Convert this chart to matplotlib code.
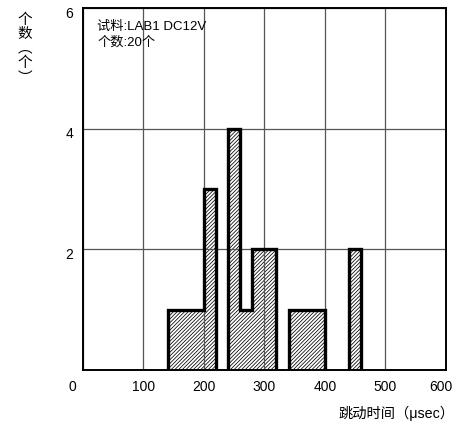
import numpy as np
import matplotlib
matplotlib.use("Agg")
import matplotlib.pyplot as plt
import matplotlib.transforms as mtransforms
from matplotlib.textpath import TextPath
from matplotlib.font_manager import FontProperties

# ---- data ----
bar_left = [140, 200, 240, 260, 280, 300, 340, 440]
bar_width = [60, 20, 20, 20, 20, 20, 60, 20]
counts = [1, 3, 4, 1, 2, 2, 1, 2]
x_ticks = [0, 100, 200, 300, 400, 500, 600]
y_ticks = [2, 4, 6]
info_lines = ["试料:LAB1 DC12V", "个数:20个"]
x_label = "跳动时间（μsec）"
y_label_chars = ["个", "数", "︵", "个", "︶"]

FAM = ["Liberation Sans", "Noto Sans CJK SC", "DejaVu Sans"]
plt.rcParams['font.family'] = FAM
plt.rcParams['hatch.linewidth'] = 0.55

DPI = 100
fig = plt.figure(figsize=(4.65, 4.24), dpi=DPI)
ax = fig.add_axes([0.178, 0.127, 0.781, 0.854])
ax.set_xlim(0, 600)
ax.set_ylim(0, 6)

ax.set_xticks(x_ticks)
ax.set_yticks(y_ticks)
# horizontal grid below bars, vertical grid above hatch
ax.yaxis.grid(True, color="#555555", linewidth=0.9)
ax.xaxis.grid(True, color="#555555", linewidth=0.9)
ax.set_axisbelow(False)
for gl in ax.yaxis.get_gridlines():
    gl.set_zorder(0.5)
for gl in ax.xaxis.get_gridlines():
    gl.set_zorder(2.5)

# hatched bars
ax.bar(bar_left, counts, width=bar_width, align='edge', color='white',
       edgecolor='black', linewidth=0, hatch='/////////', zorder=2)

# thick outline of contiguous groups
edges = [bar_left[0]]
vals = []
for l, w, c in zip(bar_left, bar_width, counts):
    if l > edges[-1]:
        vals.append(np.nan)
        edges.append(l)
    vals.append(c)
    edges.append(l + w)
ax.stairs(vals, edges, baseline=0, fill=False, color='black',
          linewidth=2.4, zorder=3)

for s in ax.spines.values():
    s.set_linewidth(1.4)
    s.set_zorder(4)

ax.tick_params(length=0, labelsize=10, pad=7)
ax.set_xticklabels([str(v) for v in x_ticks])
ax.set_yticklabels([str(v) for v in y_ticks])
lbl0 = ax.get_xticklabels()[0]
lbl0.set_transform(lbl0.get_transform() +
                   mtransforms.ScaledTranslation(-10 / 100, 0, fig.dpi_scale_trans))
lbl6 = ax.get_xticklabels()[-1]
lbl6.set_transform(lbl6.get_transform() +
                   mtransforms.ScaledTranslation(-5 / 100, 0, fig.dpi_scale_trans))
for lbl in ax.get_yticklabels():
    lbl.set_transform(lbl.get_transform() +
                      mtransforms.ScaledTranslation(0, -4 / 100, fig.dpi_scale_trans))

# info text
ax.text(0.04, 0.964, "\n".join(info_lines), transform=ax.transAxes,
        ha='left', va='top', fontsize=9.5, linespacing=1.35, zorder=5)

# x label
fig.text(454 / 465, 1 - 413 / 424, x_label, ha='right', va='center', fontsize=10.3)

# y label (vertical stacked characters), placed by ink centre
ylab_size = 10.5
cjk = FontProperties(family="Noto Sans CJK SC", size=ylab_size)
centers = [18.5, 32.5, 51, 61.5, 72]
for ch, yc in zip(y_label_chars, centers):
    ext = TextPath((0, 0), ch, prop=cjk).get_extents()
    ink_mid_px = (ext.y0 + ext.y1) / 2 * DPI / 72.0
    inkx_mid_px = (ext.x0 + ext.x1) / 2 * DPI / 72.0
    base_y = (424 - yc) - ink_mid_px
    left_x = 25 - inkx_mid_px
    fig.text(left_x / 465, base_y / 424, ch, ha='left', va='baseline',
             fontproperties=cjk)

fig.savefig("out.png", dpi=DPI)
